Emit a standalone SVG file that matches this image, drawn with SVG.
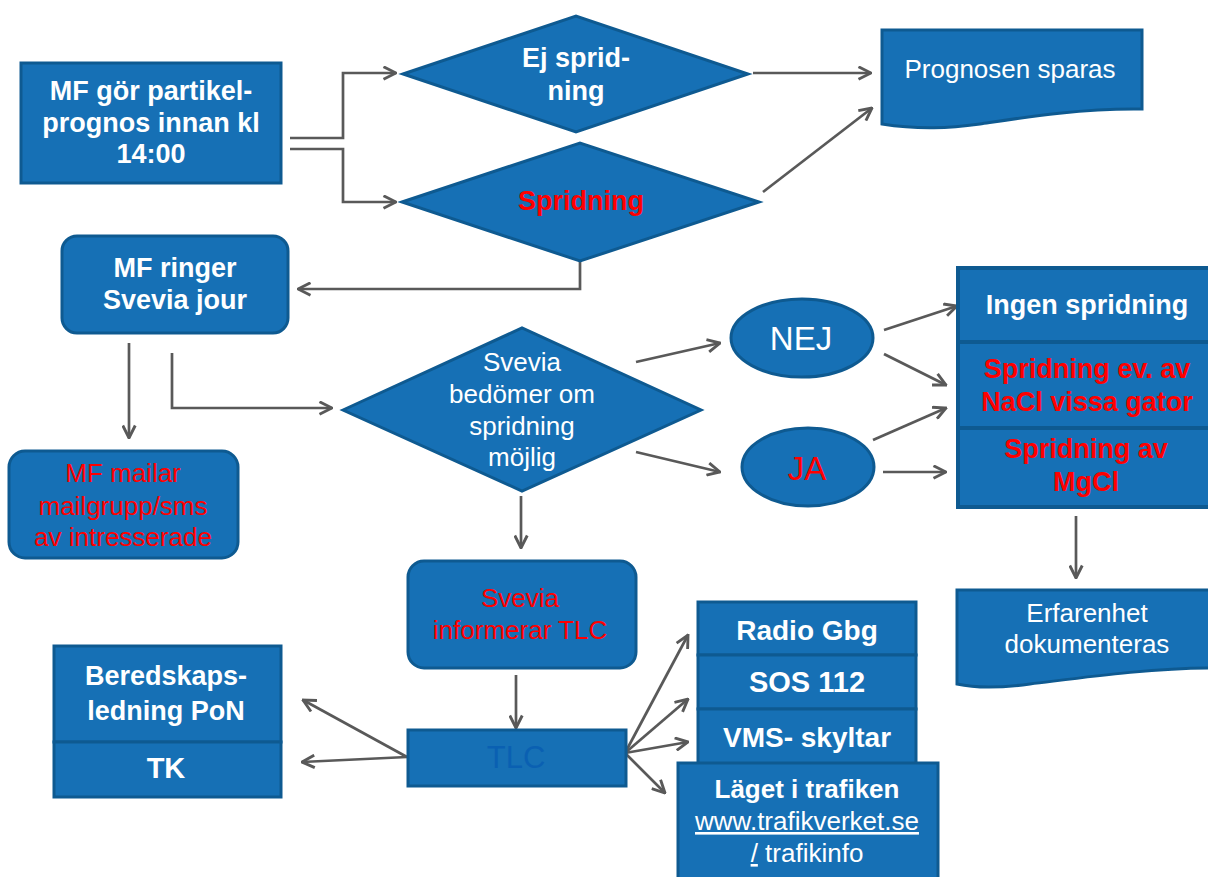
<svg xmlns="http://www.w3.org/2000/svg" width="1208" height="877" viewBox="0 0 1208 877">
<style>
.n{fill:#1670b5;stroke:#0e5a91;stroke-width:3}
.t{font-family:"Liberation Sans",Arial,sans-serif;font-size:26px;text-anchor:middle;fill:#fff}
.b{font-weight:bold;font-size:27px}
.r{fill:#ff0000}
.c{fill:none;stroke:#595959;stroke-width:2.7;marker-end:url(#ah)}
</style>
<defs>
<marker id="ah" viewBox="0 0 12 12" refX="11" refY="6" markerWidth="15" markerHeight="15" markerUnits="userSpaceOnUse" orient="auto">
<path d="M1,1 L11,6 L1,11" fill="none" stroke="#595959" stroke-width="2.3"/>
</marker>
</defs>
<rect width="1208" height="877" fill="#fff"/>
<g id="connectors">
<polyline class="c" points="290,138 343,138 343,73 396,73"/>
<polyline class="c" points="290,149 343,149 343,202 396,202"/>
<line class="c" x1="753" y1="73" x2="871" y2="73"/>
<line class="c" x1="763" y1="192" x2="872" y2="108"/>
<polyline class="c" points="580,260 580,289 298,289"/>
<line class="c" x1="129" y1="343" x2="129" y2="438"/>
<polyline class="c" points="172,353 172,408 332,408"/>
<line class="c" x1="636" y1="362" x2="720" y2="343"/>
<line class="c" x1="636" y1="452" x2="720" y2="472"/>
<line class="c" x1="884" y1="330" x2="957" y2="306"/>
<line class="c" x1="884" y1="354" x2="946" y2="385"/>
<line class="c" x1="873" y1="440" x2="946" y2="408"/>
<line class="c" x1="883" y1="472" x2="946" y2="472"/>
<line class="c" x1="1076" y1="516" x2="1076" y2="578"/>
<line class="c" x1="521" y1="496" x2="521" y2="548"/>
<line class="c" x1="516" y1="675" x2="516" y2="728"/>
<line class="c" x1="407" y1="757" x2="303" y2="700"/>
<line class="c" x1="407" y1="757" x2="302" y2="762"/>
<line class="c" x1="625" y1="753" x2="688" y2="635"/>
<line class="c" x1="625" y1="753" x2="688" y2="699"/>
<line class="c" x1="625" y1="753" x2="688" y2="742"/>
<line class="c" x1="625" y1="753" x2="665" y2="793"/>
</g>
<g id="mf-prognos">
<rect class="n" x="21" y="63" width="260" height="120"/>
<text class="t b" x="151" y="100">MF gör partikel-</text>
<text class="t b" x="151" y="132">prognos innan kl</text>
<text class="t b" x="151" y="163">14:00</text>
</g>
<g id="ej-spridning">
<polygon class="n" points="403,74 576,16 748,74 576,132"/>
<text class="t b" x="576" y="67">Ej sprid-</text>
<text class="t b" x="576" y="100">ning</text>
</g>
<g id="spridning">
<polygon class="n" points="402,202 580,143 759,202 580,261"/>
<text class="t b r" x="581" y="210">Spridning</text>
</g>
<g id="prognosen-sparas">
<path class="n" d="M882,30 H1142 V109 C1080,108 1020,118 980,124 C950,128 920,130 882,124 Z"/>
<text class="t" x="1010" y="78">Prognosen sparas</text>
</g>
<g id="mf-ringer">
<rect class="n" x="62" y="236" width="226" height="97" rx="15"/>
<text class="t b" x="175" y="277">MF ringer</text>
<text class="t b" x="175" y="309">Svevia jour</text>
</g>
<g id="mf-mailar">
<rect class="n" x="9" y="451" width="229" height="107" rx="16"/>
<text class="t r" x="123" y="482">MF mailar</text>
<text class="t r" x="123" y="515">mailgrupp/sms</text>
<text class="t r" x="123" y="546">av intresserade</text>
</g>
<g id="svevia-bedomer">
<polygon class="n" points="343,410 522,328 701,410 522,491"/>
<text class="t" x="522" y="371">Svevia</text>
<text class="t" x="522" y="403">bedömer om</text>
<text class="t" x="522" y="435">spridning</text>
<text class="t" x="522" y="466">möjlig</text>
</g>
<g id="nej">
<ellipse class="n" cx="802" cy="338" rx="71" ry="39"/>
<text class="t" x="801" y="350" style="font-size:33px">NEJ</text>
</g>
<g id="ja">
<ellipse class="n" cx="808" cy="467" rx="66" ry="39"/>
<text class="t r" x="807" y="480" style="font-size:33px">JA</text>
</g>
<g id="atgard">
<rect class="n" x="958" y="268" width="252" height="74" style="stroke-width:4"/>
<rect class="n" x="958" y="342" width="252" height="86" style="stroke-width:4"/>
<rect class="n" x="958" y="428" width="252" height="79" style="stroke-width:4"/>
<text class="t b" x="1087" y="314">Ingen spridning</text>
<text class="t b r" x="1087" y="378">Spridning ev. av</text>
<text class="t b r" x="1087" y="411">NaCl vissa gator</text>
<text class="t b r" x="1086" y="458">Spridning av</text>
<text class="t b r" x="1086" y="491">MgCl</text>
</g>
<g id="erfarenhet">
<path class="n" d="M957,590 H1210 V668 C1150,668 1080,678 1030,684 C1000,688 975,688 957,684 Z"/>
<text class="t" x="1087" y="622">Erfarenhet</text>
<text class="t" x="1087" y="653">dokumenteras</text>
</g>
<g id="svevia-informerar">
<rect class="n" x="408" y="561" width="228" height="107" rx="16"/>
<text class="t r" x="520" y="607">Svevia</text>
<text class="t r" x="520" y="639">informerar TLC</text>
</g>
<g id="tlc">
<rect class="n" x="408" y="730" width="218" height="56"/>
<text class="t" x="516" y="768" style="fill:#0a60b2;font-size:31px">TLC</text>
</g>
<g id="beredskap">
<rect class="n" x="54" y="646" width="227" height="96"/>
<rect class="n" x="54" y="742" width="227" height="55"/>
<text class="t b" x="166" y="685">Beredskaps-</text>
<text class="t b" x="166" y="720">ledning PoN</text>
<text class="t b" x="166" y="778" style="font-size:29px">TK</text>
</g>
<g id="kanaler">
<rect class="n" x="698" y="602" width="218" height="53"/>
<rect class="n" x="698" y="655" width="218" height="54"/>
<rect class="n" x="698" y="709" width="218" height="56"/>
<text class="t b" x="807" y="640" style="font-size:28px">Radio Gbg</text>
<text class="t b" x="807" y="692" style="font-size:29px">SOS 112</text>
<text class="t b" x="807" y="747" style="font-size:28px">VMS- skyltar</text>
</g>
<g id="laget">
<rect class="n" x="678" y="763" width="260" height="118"/>
<text class="t b" x="807" y="798" style="font-size:26px">Läget i trafiken</text>
<text class="t" x="807" y="830" text-decoration="underline">www.trafikverket.se</text>
<text class="t" x="807" y="862"><tspan text-decoration="underline">/</tspan> trafikinfo</text>
</g>
</svg>
